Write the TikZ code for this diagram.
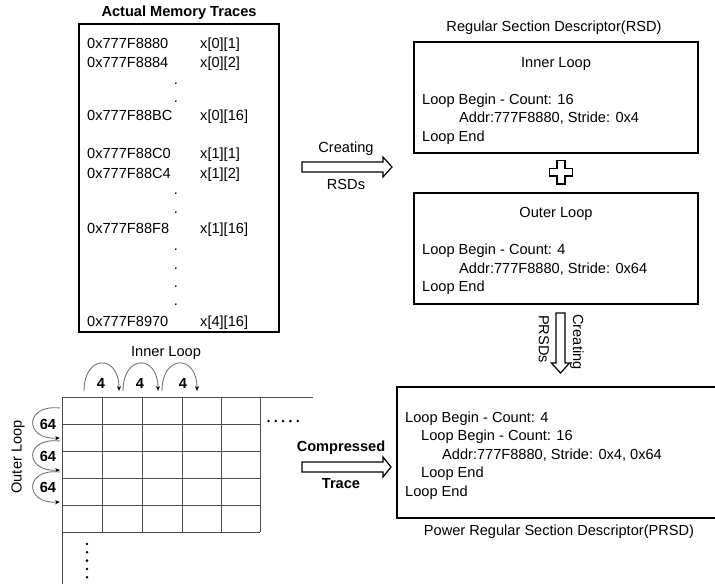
\documentclass[tikz,border=0pt]{standalone}
\usepackage{fontspec}
\setmainfont{Liberation Sans}
\usetikzlibrary{arrows.meta}
\begin{document}
\begin{tikzpicture}[x=1pt,y=-1pt, font=\fontsize{14.6}{17}\selectfont,
  box/.style={draw, line width=1.3pt, inner sep=0pt},
  txt/.style={anchor=base west, inner sep=0pt},
  ctxt/.style={anchor=base, inner sep=0pt},
  bld/.style={font=\fontsize{14.6}{17}\selectfont\bfseries},
  gridline/.style={draw=black!70, line width=0.9pt},
  looparc/.style={draw=black!55, line width=0.9pt, -{Stealth[length=5pt,width=4pt,black]}},
  hollow/.style={draw, line width=1.2pt, fill=white, line join=miter}]
\useasboundingbox (0,0) rectangle (715,584);

% ---------- Actual memory traces ----------
\node[ctxt, bld] (memtitle) at (179,16) {Actual Memory Traces};
\node[box, minimum width=200, minimum height=308] (mem) at (179,178) {};
\foreach \yy/\ad/\ix [count=\k] in {48/0x777F8880/x[0][1], 67/0x777F8884/x[0][2],
  120/0x777F88BC/x[0][16], 158/0x777F88C0/x[1][1], 178/0x777F88C4/x[1][2],
  233/0x777F88F8/x[1][16], 326/0x777F8970/x[4][16]}{
  \node[txt] (ad\k) at (87,\yy) {\ad};
  \node[txt] (ix\k) at (200,\yy) {\ix};
}
\foreach \yy [count=\k] in {84,102,194,213,250,269,287,305}{
  \node[ctxt] (dot\k) at (176,\yy) {.};
}

% ---------- Creating RSDs arrow ----------
\draw[hollow] (302,162) -- (383,162) -- (383,157) -- (392,167) -- (383,177) -- (383,172) -- (302,172) -- cycle;
\node[ctxt] (creating1) at (346,152) {Creating};
\node[ctxt] (rsds) at (346,189) {RSDs};

% ---------- RSD boxes ----------
\node[ctxt] (rsdtitle) at (554,31) {Regular Section Descriptor(RSD)};
\node[box, minimum width=284, minimum height=111] (inner) at (556,97.5) {};
\node[ctxt] (innerlbl) at (556,67) {Inner Loop};
\node[txt] (i1) at (422,104) {Loop Begin - Count: 16};
\node[txt] (i2) at (459,122) {Addr:777F8880, Stride: 0x4};
\node[txt] (i3) at (422,141) {Loop End};

\draw[line width=1.1pt, line join=miter] (557,160.5) -- (565,160.5) -- (565,168.5) -- (572.5,168.5) -- (572.5,176) -- (565,176) -- (565,184) -- (557,184) -- (557,176) -- (549.5,176) -- (549.5,168.5) -- (557,168.5) -- cycle;

\node[box, minimum width=284, minimum height=111] (outer) at (556,248.5) {};
\node[ctxt] (outerlbl) at (556,217) {Outer Loop};
\node[txt] (o1) at (422,254) {Loop Begin - Count: 4};
\node[txt] (o2) at (459,273) {Addr:777F8880, Stride: 0x64};
\node[txt] (o3) at (422,291) {Loop End};

% ---------- Creating PRSDs arrow ----------
\draw[hollow] (556,313) -- (565,313) -- (565,363) -- (569.5,363) -- (560.5,373) -- (551.5,363) -- (556,363) -- cycle;
\node[rotate=-90, inner sep=0pt] (prsds) at (544,339) {PRSDs};
\node[rotate=-90, inner sep=0pt] (creating2) at (577,342) {Creating};

% ---------- PRSD box ----------
\draw[line width=1.3pt] (716,387) -- (397,387) -- (397,518) -- (716,518);
\node[txt] (p1) at (405,422) {Loop Begin - Count: 4};
\node[txt] (p2) at (421,440) {Loop Begin - Count: 16};
\node[txt] (p3) at (442,459) {Addr:777F8880, Stride: 0x4, 0x64};
\node[txt] (p4) at (421,477) {Loop End};
\node[txt] (p5) at (405,496) {Loop End};
\node[ctxt] (prsdtitle) at (559,535) {Power Regular Section Descriptor(PRSD)};

% ---------- Compressed trace arrow ----------
\draw[hollow] (302,462) -- (383,462) -- (383,457) -- (391,467) -- (383,477) -- (383,472) -- (302,472) -- cycle;
\node[ctxt, bld] (compressed) at (341,451) {Compressed};
\node[ctxt, bld] (trace) at (341,488) {Trace};

% ---------- Grid ----------
\foreach \xx in {102,142,182,221,260}{ \draw[gridline] (\xx,397) -- (\xx,532); }
\foreach \yy in {424,451,478,505,532}{ \draw[gridline] (62,\yy) -- (260,\yy); }
\draw[gridline] (62,397) -- (313,397);
\draw[gridline] (62,397) -- (62,584);
\foreach \i in {0,...,4}{ \fill (268.5+7.3*\i,421) circle (1.4); }
\foreach \i in {0,...,4}{ \fill (87,544+8.3*\i) circle (1.4); }

\node[ctxt] (innerloop2) at (166,356) {Inner Loop};
\draw[looparc] (84,391) .. controls (84,354) and (119,354) .. (119,391);
\draw[looparc] (123,391) .. controls (123,354) and (158,354) .. (158,391);
\draw[looparc] (162,391) .. controls (162,354) and (197,354) .. (197,391);
\node[ctxt, bld] (s1) at (101,388) {4};
\node[ctxt, bld] (s2) at (140,388) {4};
\node[ctxt, bld] (s3) at (183,388) {4};

\node[rotate=90, inner sep=0pt] (outerloop2) at (18,457) {Outer Loop};
\draw[looparc] (60,408) .. controls (24,404) and (24,440) .. (60,438);
\draw[looparc] (60,441) .. controls (24,437) and (24,472) .. (60,470);
\draw[looparc] (60,472) .. controls (24,468) and (24,504) .. (60,502);
\node[ctxt, bld] (t1) at (48,429) {64};
\node[ctxt, bld] (t2) at (48,461) {64};
\node[ctxt, bld] (t3) at (48,492) {64};
\end{tikzpicture}
\end{document}
